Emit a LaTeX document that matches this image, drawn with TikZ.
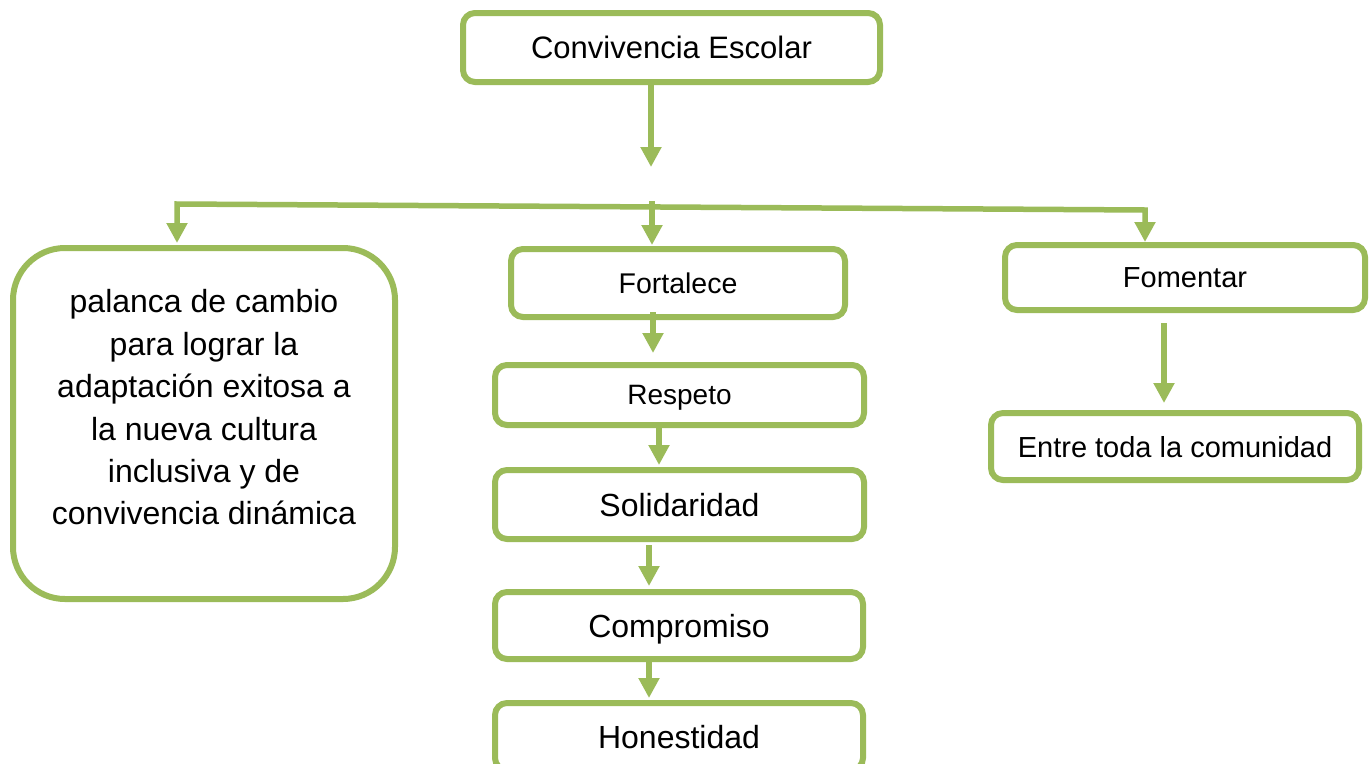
\documentclass[tikz,border=0pt]{standalone}
\usepackage{fontspec}
\setmainfont{Liberation Sans}
\usetikzlibrary{arrows.meta,calc}
\definecolor{ogreen}{HTML}{9BBB59}
\tikzset{
  box/.style={draw=ogreen, line width=6pt, rounded corners=12pt, fill=white,
    inner sep=0pt, outer sep=0pt, text depth=0pt, anchor=center},
  txt/.style={inner sep=0pt, outer sep=0pt, align=center},
  arr/.style={draw=ogreen, line width=5.5pt, -{Triangle[width=20pt,length=20pt]}},
  arrboth/.style={draw=ogreen, line width=5.5pt, line join=miter,
    {Triangle[width=20pt,length=20pt]}-{Triangle[width=20pt,length=20pt]}},
}
\begin{document}
\begin{tikzpicture}[x=1pt,y=-1pt]
\useasboundingbox (0,0) rectangle (1370,763);
\clip (0,0) rectangle (1370,763);
\fill[white] (0,0) rectangle (1370,763);
% boxes
\node[box, minimum width=417pt, minimum height=69pt, font=\fontsize{31}{36}\selectfont] (top) at (671.5,47.5) {Convivencia Escolar};
\node[box, minimum width=334pt, minimum height=68pt, font=\fontsize{28.5}{34}\selectfont] (fort) at (678,283) {Fortalece};
\node[box, minimum width=369pt, minimum height=60pt, font=\fontsize{28}{34}\selectfont] (resp) at (679.5,395) {Respeto};
\node[box, minimum width=369pt, minimum height=69pt, font=\fontsize{32}{38}\selectfont] (sol) at (679.5,504.5) {Solidaridad};
\node[box, minimum width=368pt, minimum height=67pt, font=\fontsize{32}{38}\selectfont] (comp) at (679,625.5) {Compromiso};
\node[box, minimum width=368pt, minimum height=67pt, font=\fontsize{32}{38}\selectfont] (hon) at (679,736.5) {Honestidad};
\node[box, minimum width=360pt, minimum height=65pt, font=\fontsize{29}{34}\selectfont] (fom) at (1185,277.5) {Fomentar};
\node[box, minimum width=368pt, minimum height=67pt, font=\fontsize{29}{34}\selectfont] (entre) at (1175,446.5) {Entre toda la comunidad};
\node[box, rounded corners=52pt, minimum width=382pt, minimum height=351pt] (left) at (204,423.5) {};
\node[txt, font=\fontsize{32}{42.4}\selectfont] (lefttext) at (204,407.5) {palanca de cambio\\para lograr la\\adaptación exitosa a\\la nueva cultura\\inclusiva y de\\convivencia dinámica};
% connectors
\coordinate (topend) at (651,167);
\coordinate (hl) at (177,204);
\coordinate (hr) at (1145,210);
\coordinate (hm) at (652,201);
\draw[arr] ($(top.south)+(-20.5,0)$) -- (topend);
\draw[arrboth] ($(left.north)+(-27,-5)$) -- (hl) -- (hr) -- ($(fom.north)+(-40,-3)$);
\draw[arr] (hm) -- ($(fort.north)+(-26,-4)$);
\draw[arr] ($(fort.south)+(-25,-5)$) -- ($(resp.north)+(-26.5,-12)$);
\draw[arr] ($(resp.south)+(-20.5,0)$) -- ($(sol.north)+(-20.5,-5)$);
\draw[arr] ($(sol.south)+(-30.5,6)$) -- ($(comp.north)+(-30,-6)$);
\draw[arr] ($(comp.south)+(-30,-2)$) -- ($(hon.north)+(-30,-5)$);
\draw[arr] ($(fom.south)+(-21,13)$) -- ($(entre.north)+(-11,-10)$);
\end{tikzpicture}
\end{document}
